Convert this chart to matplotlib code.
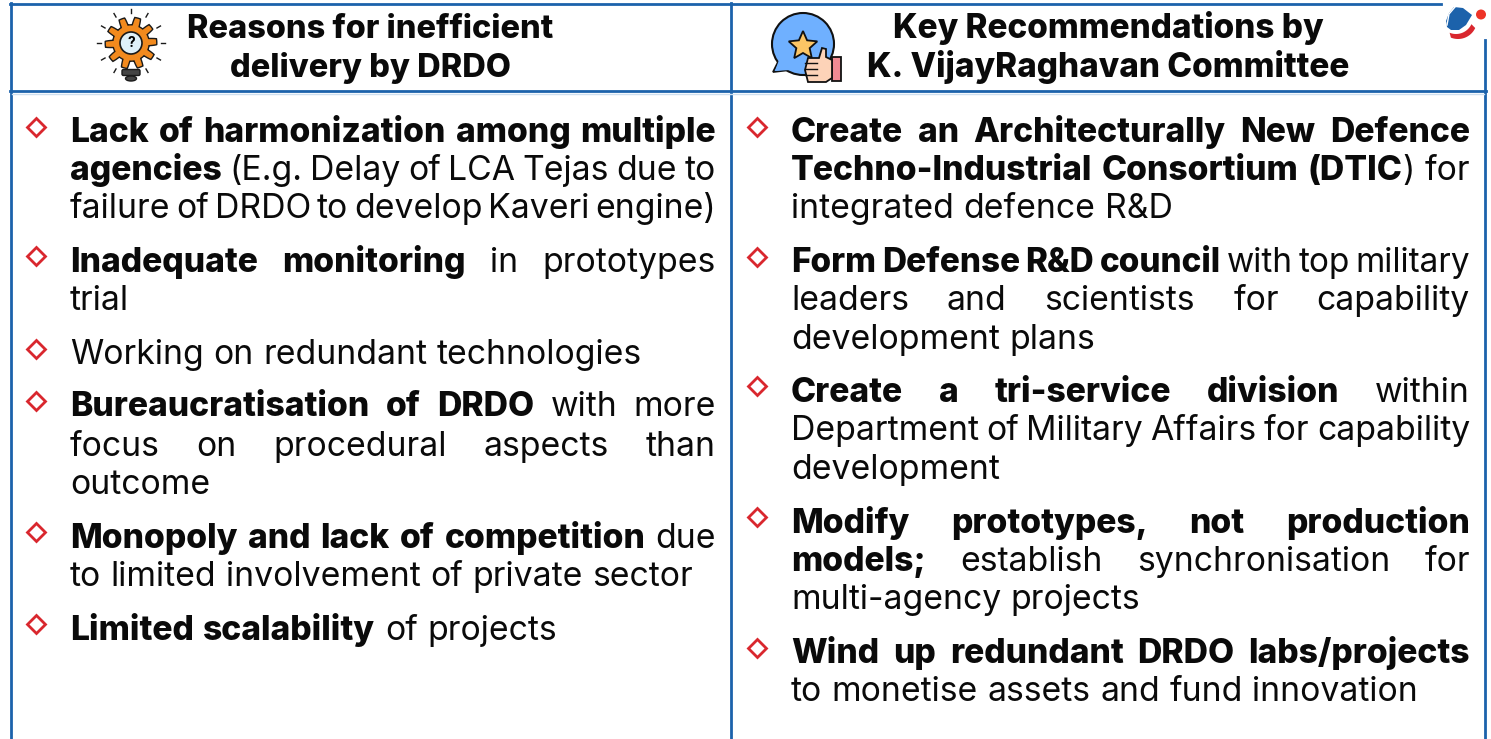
import numpy as np
import matplotlib
matplotlib.use('Agg')
import matplotlib.pyplot as plt
from matplotlib.patches import Circle, Polygon, Rectangle, Ellipse, FancyBboxPatch

FONT = 'Inter'
BLUE = '#1c62ab'
RED = '#d9272e'

header_left = ['Reasons for inefficient', 'delivery by DRDO']
header_right = ['Key Recommendations by', 'K. VijayRaghavan Committee']

# each line: bold part, regular part, justified?
left_lines = [
    ('Lack of harmonization among multiple', '', True),
    ('agencies', '(E.g. Delay of LCA Tejas due to', True),
    ('', 'failure of DRDO to develop Kaveri engine)', True),
    ('Inadequate monitoring', 'in prototypes', True),
    ('', 'trial', False),
    ('', 'Working on redundant technologies', False),
    ('Bureaucratisation of DRDO', 'with more', True),
    ('', 'focus on procedural aspects than', True),
    ('', 'outcome', False),
    ('Monopoly and lack of competition', 'due', True),
    ('', 'to limited involvement of private sector', False),
    ('Limited scalability', 'of projects', False),
]
left_y = [142, 180, 218, 272, 310, 364, 416, 456, 494, 548, 586, 640]
left_bullets = [127, 256, 349, 401, 532, 624]

right_lines = [
    ('Create an Architecturally New Defence', '', True),
    ('Techno-Industrial Consortium (DTIC', ') for', True),
    ('', 'integrated defence R&D', False),
    ('Form Defense R&D council', 'with top military', True),
    ('', 'leaders and scientists for capability', True),
    ('', 'development plans', False),
    ('Create a tri-service division', 'within', True),
    ('', 'Department of Military Affairs for capability', True),
    ('', 'development', False),
    ('Modify prototypes, not production', '', True),
    ('models;', 'establish synchronisation for', True),
    ('', 'multi-agency projects', False),
    ('Wind up redundant DRDO labs/projects', '', True),
    ('', 'to monetise assets and fund innovation', False),
]
right_y = [142, 180, 218, 272, 310, 349, 402, 440, 479, 533, 571, 609, 663, 701]
right_bullets = [127, 257, 386, 517, 648]

fig = plt.figure(figsize=(14.91, 7.39), dpi=100)
ax = fig.add_axes([0, 0, 1, 1])
ax.set_xlim(0, 1491)
ax.set_ylim(739, 0)
ax.axis('off')
renderer = fig.canvas.get_renderer()
SIZE = 24.3
HEAVY = 800


def text_width(s, bold, size):
    t = ax.text(0, 0, s, fontsize=size, family=FONT, fontweight=HEAVY if bold else 'normal')
    w = t.get_window_extent(renderer).width
    t.remove()
    return w


def draw_line(line, x0, x1, y):
    bold, regular, justified = line
    words = [(w, True) for w in bold.split()] + [(w, False) for w in regular.split()]
    size = SIZE
    while True:
        widths = [text_width(w, b, size) for w, b in words]
        attached = [w == ')' for w, b in words]
        gap = text_width('a a', False, size) - text_width('aa', False, size)
        ngaps = len(words) - 1 - sum(attached)
        total = sum(widths)
        if total + ngaps * gap * 0.6 <= x1 - x0 or size < 15:
            break
        size -= 0.1
    if justified and ngaps > 0:
        gap = (x1 - x0 - total) / ngaps
    x = x0
    for i, (w, b) in enumerate(words):
        if i > 0 and not attached[i]:
            x += gap
        ax.text(x, y, w, fontsize=size, family=FONT, fontweight=HEAVY if b else 'normal',
                va='baseline', ha='left', color='#0a0a0a')
        x += widths[i]


for line, y in zip(left_lines, left_y):
    draw_line(line, 70, 716, y)
for line, y in zip(right_lines, right_y):
    draw_line(line, 791, 1470, y)

ax.plot([36] * len(left_bullets), left_bullets, 'D', ms=9.2, mfc='white', mec=RED, mew=2.0, ls='none')
ax.plot([757] * len(right_bullets), right_bullets, 'D', ms=9.2, mfc='white', mec=RED, mew=2.0, ls='none')

for s, y in zip(header_left, [38, 77]):
    ax.text(370, y, s, fontsize=23.4, family=FONT, fontweight=HEAVY, ha='center', va='baseline', color='#0a0a0a')
for s, y in zip(header_right, [38, 77]):
    ax.text(1108, y, s, fontsize=24, family=FONT, fontweight=HEAVY, ha='center', va='baseline', color='#0a0a0a')

# table rules
lw = 2.0
ax.plot([10, 1441], [3.5, 3.5], color=BLUE, lw=lw)
ax.plot([11, 11], [3, 739], color=BLUE, lw=lw)
ax.plot([730.5, 730.5], [3, 739], color=BLUE, lw=lw)
ax.plot([1485, 1485], [40, 739], color=BLUE, lw=lw)
ax.plot([10, 1486], [91, 91], color=BLUE, lw=lw)
ax.plot([12, 1484], [93.5, 93.5], color='#cfe0f0', lw=1)

# gear + bulb icon
cx, cy = 131, 43
ang = np.linspace(0, 2 * np.pi, 721)
rad = 22 + 3.8 * np.clip(2.5 * np.cos(10 * ang + 0.5), -1, 1)
ax.add_patch(Polygon(np.c_[cx + rad * np.cos(ang), cy + rad * np.sin(ang)], fc='#f28a1e', ec='#1a1a1a', lw=1, zorder=3))
ax.add_patch(Circle((cx, cy), 11, fc='#dff0f8', ec='#1a1a1a', lw=1.2, zorder=4))
ax.text(cx, cy, '?', fontsize=10, family=FONT, fontweight='bold', ha='center', va='center', zorder=5)
ax.add_patch(FancyBboxPatch((cx - 7.5, 71), 15, 3, boxstyle='round,pad=1.5', fc='#444444', ec='#1a1a1a', lw=1, zorder=2))
ax.add_patch(Ellipse((cx, 78.5), 11, 5, fc='#444444', ec='#1a1a1a', lw=1, zorder=2))
for a in np.arange(0, 360, 30):
    if a == 90:
        continue
    ca, sa = np.cos(np.radians(a)), np.sin(np.radians(a))
    ax.plot([cx + 30 * ca, cx + 34 * ca], [cy + 30 * sa, cy + 34 * sa], color='#1a1a1a', lw=1)

# speech bubble + thumb icon
bx, by = 803, 44
ax.add_patch(Polygon([(779, 60), (773, 72), (790, 70)], fc='#6fb0ff', ec='#111111', lw=1.3, zorder=2))
ax.add_patch(Circle((bx, by), 31, fc='#6fb0ff', ec='#111111', lw=1.5, zorder=2))
ax.add_patch(Polygon([(779, 60), (775, 71), (790, 70), (792, 60)], fc='#6fb0ff', ec='none', zorder=3))
star_a = np.radians(np.arange(-90, 270, 36))
star_r = np.where(np.arange(10) % 2 == 0, 15, 7)
ax.add_patch(Polygon(np.c_[803 + star_r * np.cos(star_a), 46 + star_r * np.sin(star_a)], fc='#fcc565', ec='#111111', lw=1.3, zorder=4))
ax.add_patch(Rectangle((832, 57), 9, 24, fc='#f08a93', ec='#111111', lw=1.3, zorder=4))
ax.add_patch(Polygon([(819, 58), (822, 48), (826, 49), (826, 57), (832, 60), (832, 78), (826, 82), (808, 82), (805, 70), (808, 58)],
                     fc='#fdd3b8', ec='#111111', lw=1.3, zorder=5))
for yy in [63, 69, 75]:
    ax.plot([805, 817], [yy, yy], color='#111111', lw=1, zorder=6)

# corner logo
ax.add_patch(Polygon([(1472, 15), (1463, 8), (1454, 7), (1449, 13), (1446, 21), (1447, 27), (1451, 30), (1459, 30), (1466, 25)],
                     fc=BLUE, ec='none', zorder=6))
ax.plot([1455, 1449, 1447], [7, 14, 25], color='white', lw=1, zorder=7)
th = np.radians(np.linspace(25, 112, 30))
outer = np.c_[1458 + 19 * np.cos(th), 20 + 19 * np.sin(th)]
inner = np.c_[1458 + 17 * np.cos(th[::-1]) - 2, 17 + 17 * np.sin(th[::-1])]
ax.add_patch(Polygon(np.r_[outer, inner], fc=RED, ec='none', zorder=6))
ax.add_patch(Circle((1481, 14.5), 5, fc='#ee3327', ec='none', zorder=6))

fig.savefig('out.png', dpi=100)
